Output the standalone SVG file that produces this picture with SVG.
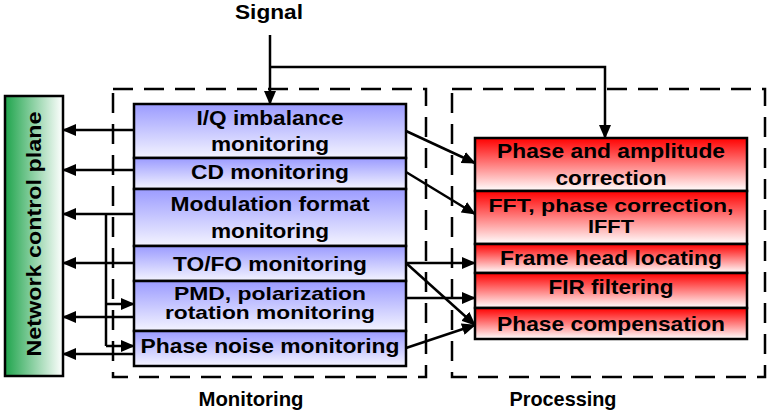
<svg xmlns="http://www.w3.org/2000/svg" width="767" height="411" viewBox="0 0 767 411">
<style>
text{font-family:"Liberation Sans",Arial,sans-serif;font-weight:bold;font-size:21px;fill:#000;text-anchor:middle}
.tight{font-size:19px}
.box{stroke:#000;stroke-width:2.5}
.dash{fill:none;stroke:#000;stroke-width:2.5;stroke-dasharray:20 11}
.con{fill:none;stroke:#000;stroke-width:2.5}
.arr{marker-end:url(#ah)}
</style>
<defs>
<linearGradient id="gBlue" x1="0" y1="0" x2="0" y2="1"><stop offset="0" stop-color="#9b9bff"/><stop offset="1" stop-color="#f4f4ff"/></linearGradient>
<linearGradient id="gRed" x1="0" y1="0" x2="0" y2="1"><stop offset="0" stop-color="#ff0000"/><stop offset="1" stop-color="#ffffff"/></linearGradient>
<linearGradient id="gGreen" x1="0" y1="0" x2="1" y2="0"><stop offset="0" stop-color="#1fa44c"/><stop offset="1" stop-color="#ffffff"/></linearGradient>
<marker id="ah" markerUnits="userSpaceOnUse" markerWidth="14" markerHeight="12" refX="13" refY="6" orient="auto"><path d="M0,0 L14,6 L0,12 Z" fill="#000"/></marker>
</defs>

<g id="frames">
<rect class="dash" x="113" y="89" width="313" height="288"/>
<rect class="dash" x="452" y="89" width="313" height="288"/>
</g>

<g id="signal"><text x="269" y="19" textLength="68" lengthAdjust="spacingAndGlyphs">Signal</text></g>

<g id="network-control-plane">
<rect class="box" x="5" y="96" width="58" height="280" fill="url(#gGreen)"/>
<text transform="translate(41,234) rotate(-90)" x="0" y="0" textLength="245" lengthAdjust="spacingAndGlyphs">Network control plane</text>
</g>

<g id="iq-imbalance">
<rect class="box" x="134" y="104" width="272" height="54" fill="url(#gBlue)"/>
<text x="270" y="125" textLength="147" lengthAdjust="spacingAndGlyphs">I/Q imbalance</text>
<text x="270" y="151" textLength="118" lengthAdjust="spacingAndGlyphs">monitoring</text>
</g>
<g id="cd-monitoring">
<rect class="box" x="134" y="158" width="272" height="31" fill="url(#gBlue)"/>
<text x="270" y="179" textLength="158" lengthAdjust="spacingAndGlyphs">CD monitoring</text>
</g>
<g id="modulation-format">
<rect class="box" x="134" y="189" width="272" height="57" fill="url(#gBlue)"/>
<text x="270" y="211" textLength="199" lengthAdjust="spacingAndGlyphs">Modulation format</text>
<text x="270" y="238" textLength="118" lengthAdjust="spacingAndGlyphs">monitoring</text>
</g>
<g id="tofo-monitoring">
<rect class="box" x="134" y="246" width="272" height="35" fill="url(#gBlue)"/>
<text x="270" y="271" textLength="194" lengthAdjust="spacingAndGlyphs">TO/FO monitoring</text>
</g>
<g id="pmd-monitoring">
<rect class="box" x="134" y="281" width="272" height="50" fill="url(#gBlue)"/>
<text class="tight" x="270" y="300" textLength="192" lengthAdjust="spacingAndGlyphs">PMD, polarization</text>
<text class="tight" x="270" y="319" textLength="210" lengthAdjust="spacingAndGlyphs">rotation monitoring</text>
</g>
<g id="phase-noise-monitoring">
<rect class="box" x="134" y="331" width="272" height="35" fill="url(#gBlue)"/>
<text x="270" y="353" textLength="259" lengthAdjust="spacingAndGlyphs">Phase noise monitoring</text>
</g>

<g id="phase-amplitude-correction">
<rect class="box" x="475" y="138" width="272" height="53" fill="url(#gRed)"/>
<text x="611" y="158" textLength="228" lengthAdjust="spacingAndGlyphs">Phase and amplitude</text>
<text x="611" y="185" textLength="111" lengthAdjust="spacingAndGlyphs">correction</text>
</g>
<g id="fft-phase-correction">
<rect class="box" x="475" y="191" width="272" height="53" fill="url(#gRed)"/>
<text class="tight" x="611" y="212" textLength="245" lengthAdjust="spacingAndGlyphs">FFT, phase correction,</text>
<text class="tight" x="611" y="233" textLength="46" lengthAdjust="spacingAndGlyphs">IFFT</text>
</g>
<g id="frame-head-locating">
<rect class="box" x="475" y="244" width="272" height="29" fill="url(#gRed)"/>
<text x="611" y="265" textLength="222" lengthAdjust="spacingAndGlyphs">Frame head locating</text>
</g>
<g id="fir-filtering">
<rect class="box" x="475" y="273" width="272" height="35" fill="url(#gRed)"/>
<text x="611" y="294" textLength="125" lengthAdjust="spacingAndGlyphs">FIR filtering</text>
</g>
<g id="phase-compensation">
<rect class="box" x="475" y="308" width="272" height="31" fill="url(#gRed)"/>
<text x="611" y="331" textLength="228" lengthAdjust="spacingAndGlyphs">Phase compensation</text>
</g>

<g id="labels">
<text x="251" y="406" textLength="105" lengthAdjust="spacingAndGlyphs">Monitoring</text>
<text x="563" y="406" textLength="107" lengthAdjust="spacingAndGlyphs">Processing</text>
</g>

<g id="connectors">
<path class="con arr" d="M270,35 V104"/>
<path class="con arr" d="M270,67 H605 V138"/>
<path class="con arr" d="M134,130 H63"/>
<path class="con arr" d="M134,170 H63"/>
<path class="con arr" d="M134,214 H63"/>
<path class="con arr" d="M134,263 H63"/>
<path class="con arr" d="M134,317 H63"/>
<path class="con arr" d="M134,354 H63"/>
<path class="con" d="M106,214 V346"/>
<path class="con arr" d="M106,304 H134"/>
<path class="con arr" d="M106,346 H134"/>
<path class="con arr" d="M406,131 L475,163"/>
<path class="con arr" d="M406,172 L475,214"/>
<path class="con arr" d="M406,263 H475"/>
<path class="con arr" d="M406,263 L475,325"/>
<path class="con arr" d="M406,298 H475"/>
<path class="con arr" d="M406,348 L475,325"/>
</g>
</svg>
